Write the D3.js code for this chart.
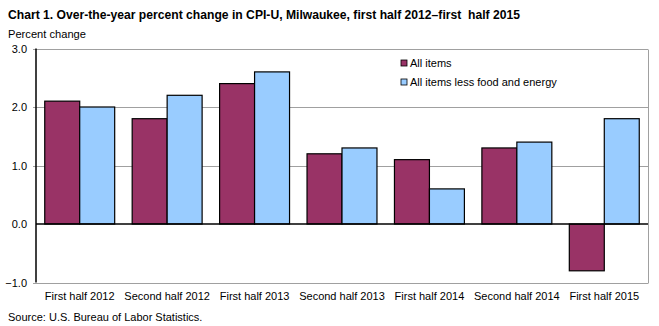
<!DOCTYPE html>
<html>
<head>
<meta charset="utf-8">
<script src="https://cdn.jsdelivr.net/npm/d3@7"></script>
<style>
  html, body { margin: 0; padding: 0; background: #fff; }
  svg { display: block; font-family: "Liberation Sans", Arial, sans-serif; }
</style>
</head>
<body>
<svg id="chart" width="659" height="326"></svg>
<script>
const categories = ["First half 2012", "Second half 2012", "First half 2013", "Second half 2013",
  "First half 2014", "Second half 2014", "First half 2015"];
const allItems = [2.1, 1.8, 2.4, 1.2, 1.1, 1.3, -0.8];
const coreItems = [2.0, 2.2, 2.6, 1.3, 0.6, 1.4, 1.8];
const seriesNames = ["All items", "All items less food and energy"];
const seriesColors = ["#993366", "#99ccff"];
const yTicks = [-1, 0, 1, 2, 3];

const svg = d3.select("#chart");
const plotLeft = 36, plotRight = 648, plotTop = 48.5, plotBottom = 282.5;

const x = d3.scaleBand().domain(categories).range([plotLeft, plotRight]).paddingInner(0.2).paddingOuter(0.1);
const xs = d3.scaleBand().domain(seriesNames).range([0, x.bandwidth()]);
const y = d3.scaleLinear().domain([-1, 3]).range([plotBottom, plotTop]);

// title and axis caption
svg.append("text").attr("x", 8).attr("y", 19)
  .attr("font-size", 13).attr("font-weight", "bold")
  .style("white-space", "pre")
  .attr("textLength", 512).attr("lengthAdjust", "spacingAndGlyphs")
  .text("Chart 1. Over-the-year percent change in CPI-U, Milwaukee, first half 2012\u2013first  half 2015");
svg.append("text").attr("x", 8).attr("y", 38).attr("font-size", 11)
  .attr("textLength", 78).attr("lengthAdjust", "spacingAndGlyphs")
  .text("Percent change");

// gridlines
svg.append("g").selectAll("line").data(yTicks.filter(d => d !== 0)).join("line")
  .attr("x1", plotLeft - 3).attr("x2", plotRight)
  .attr("y1", d => Math.round(y(d)) + 0.5).attr("y2", d => Math.round(y(d)) + 0.5)
  .attr("stroke", "#a0a0a0").attr("stroke-width", 1);
svg.append("line").attr("x1", plotRight + 0.5).attr("x2", plotRight + 0.5)
  .attr("y1", Math.round(y(3)) + 0.5).attr("y2", Math.round(y(-1)) + 0.5)
  .attr("stroke", "#a0a0a0");

// y tick labels
svg.append("g").selectAll("text").data(yTicks).join("text")
  .attr("x", 27).attr("y", d => y(d) + 4).attr("text-anchor", "end")
  .attr("font-size", 11).text(d => d3.format(".1f")(d));

// bars
const groups = svg.append("g").selectAll("g").data(categories).join("g")
  .attr("transform", d => `translate(${x(d)},0)`);
groups.selectAll("rect").data((d, i) => [allItems[i], coreItems[i]].map((v, k) => ({ v, k })))
  .join("rect")
  .attr("x", d => xs(seriesNames[d.k]))
  .attr("width", xs.bandwidth())
  .attr("y", d => y(Math.max(0, d.v)))
  .attr("height", d => Math.abs(y(d.v) - y(0)))
  .attr("fill", d => seriesColors[d.k])
  .attr("stroke", "#000").attr("stroke-width", 1.2);

// zero line and y axis
svg.append("line").attr("x1", plotLeft).attr("x2", plotRight)
  .attr("y1", y(0)).attr("y2", y(0)).attr("stroke", "#000").attr("stroke-width", 1.5);
svg.append("line").attr("x1", plotLeft).attr("x2", plotLeft)
  .attr("y1", y(3)).attr("y2", y(-1)).attr("stroke", "#000").attr("stroke-width", 1.5);

// category labels
svg.append("g").selectAll("text").data(categories).join("text")
  .attr("x", d => x(d) + x.bandwidth() / 2).attr("y", 300).attr("text-anchor", "middle")
  .attr("font-size", 11).text(d => d);

// legend
const legend = svg.append("g").selectAll("g").data(seriesNames).join("g")
  .attr("transform", (d, i) => `translate(401,${63 + i * 19})`);
legend.append("rect").attr("x", 0).attr("y", -3).attr("width", 6).attr("height", 6)
  .attr("fill", (d, i) => seriesColors[i]).attr("stroke", "#000").attr("stroke-width", 0.8);
legend.append("text").attr("x", 9).attr("y", 4).attr("font-size", 11).text(d => d);

// source note
svg.append("text").attr("x", 8).attr("y", 321).attr("font-size", 11)
  .text("Source: U.S. Bureau of Labor Statistics.");
</script>
</body>
</html>
